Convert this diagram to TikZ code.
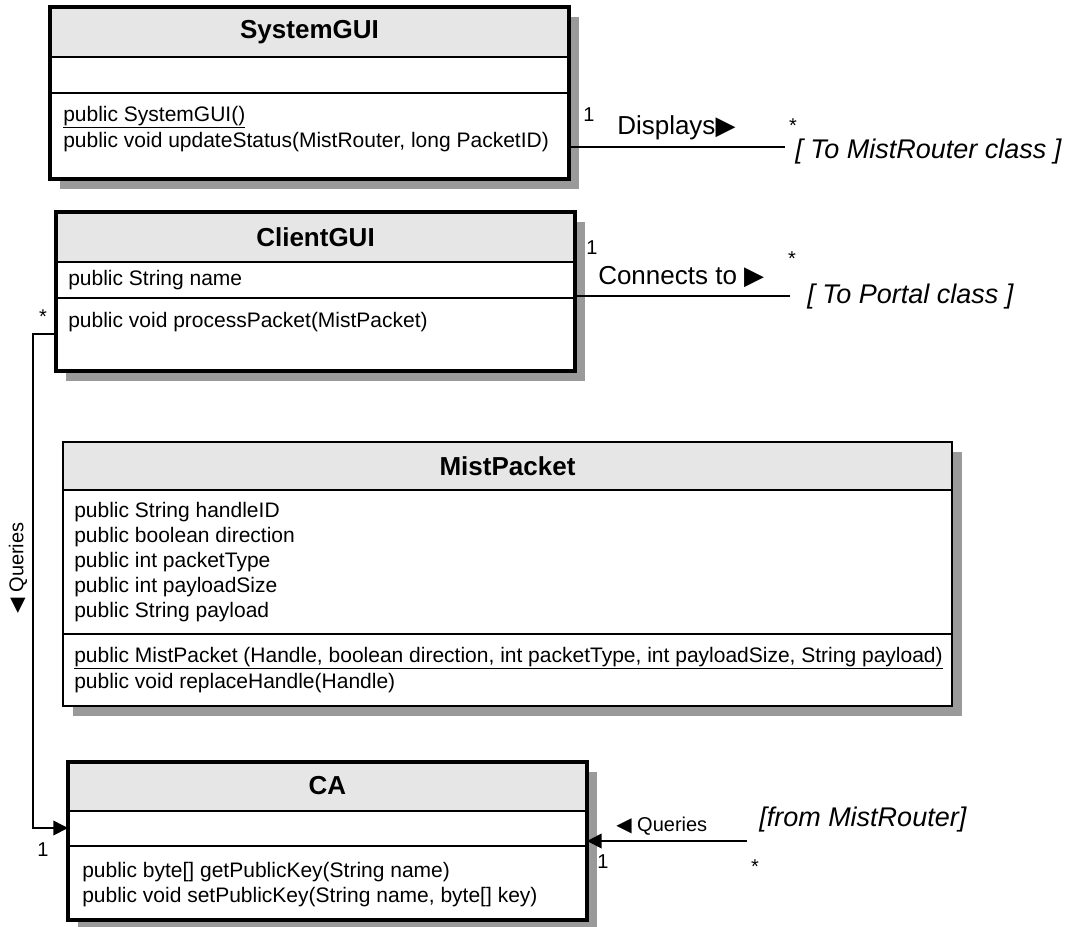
\documentclass[tikz,border=0pt]{standalone}
\usepackage{fontspec}
\setmainfont{Liberation Sans}
\newfontfamily\sym{DejaVu Sans}
\usetikzlibrary{arrows.meta,fit}
\definecolor{shadowgray}{HTML}{9A9A9A}
\definecolor{headgray}{HTML}{E6E6E6}
\tikzset{
  shadowfill/.style={fill=shadowgray},
  headfill/.style={fill=headgray},
  boxthick/.style={draw=black, fill=white, line width=2.6pt, inner sep=0pt, outer sep=0pt},
  boxthin/.style={draw=black, fill=white, line width=1.4pt, inner sep=0pt, outer sep=0pt},
  divider/.style={line width=0.9pt},
  titletext/.style={font=\fontsize{19.5}{22}\selectfont\bfseries, inner sep=0pt},
  member/.style={font=\fontsize{15.75}{18.75}\selectfont, anchor=west, inner sep=0pt},
  assoc/.style={font=\fontsize{19.5}{22}\selectfont, inner sep=0pt, anchor=west},
  smallassoc/.style={font=\fontsize{15}{18}\selectfont, inner sep=0pt},
  reftext/.style={font=\fontsize{20.25}{24}\selectfont\itshape, inner sep=0pt, anchor=west},
  mult/.style={font=\fontsize{15}{18}\selectfont, inner sep=0pt},
  conn/.style={line width=1.3pt},
  arr/.style={conn, -{Triangle[length=11pt,width=11pt]}},
}
\begin{document}
\begin{tikzpicture}[x=0.75pt,y=-0.75pt]
\useasboundingbox (0,0) rectangle (1068,926);

% ---------- SystemGUI ----------
\fill[shadowfill] (60,17) rectangle (579,189);
\node[boxthick, fit={(50,7)(569,179)}] (sys) {};
\fill[headfill] (50,7) rectangle (569,57);
\draw[divider] (50,57) -- (569,57);
\draw[divider] (50,93) -- (569,93);
\draw[line width=2.6pt] (sys.north west) rectangle (sys.south east);
\node[titletext] (sysT) at (309.5,32) {SystemGUI};
\node[member] (sysM1) at (63,117) {\underline{public SystemGUI()}};
\node[member] (sysM2) at (63,142) {public void updateStatus(MistRouter, long PacketID)};

% ---------- ClientGUI ----------
\fill[shadowfill] (66,222) rectangle (585,381);
\node[boxthick, fit={(56,212)(575,371)}] (cli) {};
\fill[headfill] (56,212) rectangle (575,262);
\draw[divider] (56,262) -- (575,262);
\draw[divider] (56,298) -- (575,298);
\draw[line width=2.6pt] (cli.north west) rectangle (cli.south east);
\node[titletext] (cliT) at (315.5,237) {ClientGUI};
\node[member] (cliA1) at (68,280) {public String name};
\node[member] (cliM1) at (68,322) {public void processPacket(MistPacket)};

% ---------- MistPacket ----------
\fill[shadowfill] (73,452) rectangle (962,716);
\node[boxthin, fit={(63,442)(952,706)}] (mp) {};
\fill[headfill] (63,442) rectangle (952,490);
\draw[divider] (63,490) -- (952,490);
\draw[divider] (63,634) -- (952,634);
\draw[line width=1.4pt] (mp.north west) rectangle (mp.south east);
\node[titletext] (mpT) at (507.5,466) {MistPacket};
\node[member] (mpA1) at (74,512) {public String handleID};
\node[member] (mpA2) at (74,537) {public boolean direction};
\node[member] (mpA3) at (74,562) {public int packetType};
\node[member] (mpA4) at (74,587) {public int payloadSize};
\node[member] (mpA5) at (74,612) {public String payload};
\node[member] (mpM1) at (74,658) {\underline{public MistPacket (Handle, boolean direction, int packetType, int payloadSize, String payload)}};
\node[member] (mpM2) at (74,683) {public void replaceHandle(Handle)};

% ---------- CA ----------
\fill[shadowfill] (78,772) rectangle (597,930);
\node[boxthick, fit={(68,762)(587,920)}] (ca) {};
\fill[headfill] (68,762) rectangle (587,811);
\draw[divider] (68,811) -- (587,811);
\draw[divider] (68,846) -- (587,846);
\draw[line width=2.6pt] (ca.north west) rectangle (ca.south east);
\node[titletext] (caT) at (327.5,786) {CA};
\node[member] (caM1) at (82,872) {public byte[] getPublicKey(String name)};
\node[member] (caM2) at (82,897) {public void setPublicKey(String name, byte[] key)};

% ---------- Displays ----------
\coordinate (mrEnd) at (785,147);
\draw[conn] (sys.east |- mrEnd) -- (mrEnd);
\node[mult] (m1) at (589,115) {1};
\node[assoc] (disp) at (617,128) {Displays{\sym ▶}};
\node[mult] (m2) at (793,126) {*};
\node[reftext] (toMR) at (795,152) {[ To MistRouter class ]};

% ---------- Connects to ----------
\coordinate (ptEnd) at (790,296);
\draw[conn] (cli.east |- ptEnd) -- (ptEnd);
\node[mult] (m3) at (592,248) {1};
\node[assoc] (conto) at (598,277) {Connects to {\sym ▶}};
\node[mult] (m4) at (792,259) {*};
\node[reftext] (toP) at (807,297) {[ To Portal class ]};

% ---------- Queries (ClientGUI -> CA) ----------
\coordinate (qa) at (33,334);
\coordinate (qb) at (33,828);
\draw[arr] (cli.west |- qa) -- (qa) -- (qb) -- (ca.west |- qb);
\node[mult] (m5) at (43,317) {*};
\node[mult] (m6) at (43,850) {1};
\node[smallassoc, rotate=90] (q1) at (18,568) {{\sym ◀} Queries};

% ---------- Queries (MistRouter -> CA) ----------
\coordinate (rq) at (747,841);
\draw[arr] (rq) -- (ca.east |- rq);
\node[smallassoc, anchor=west] (q2) at (616,826) {{\sym ◀} Queries};
\node[mult] (m7) at (603,862) {1};
\node[mult] (m8) at (755,867) {*};
\node[reftext] (fromMR) at (759,820) {[from MistRouter]};
\end{tikzpicture}
\end{document}
